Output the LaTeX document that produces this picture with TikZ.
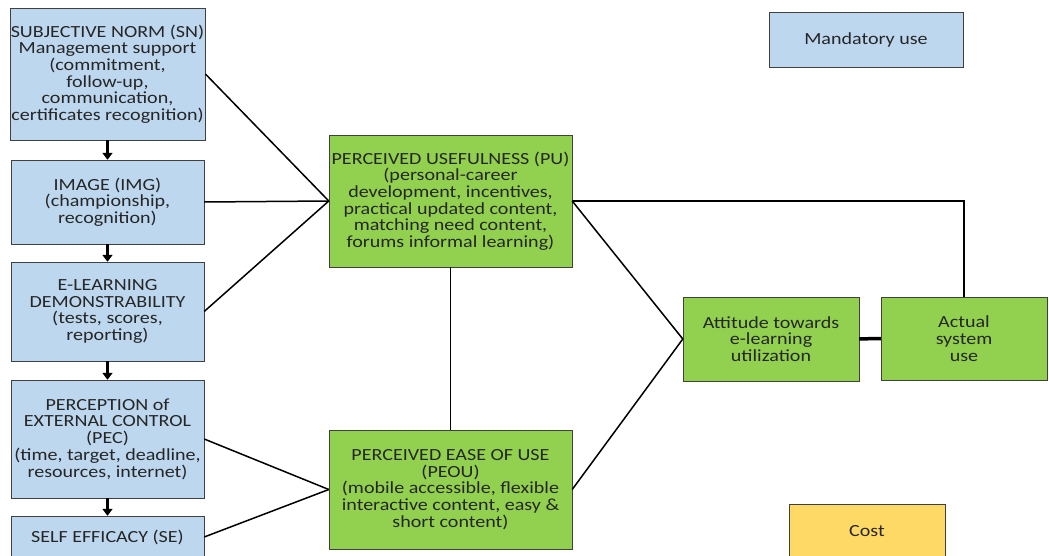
\documentclass[tikz,border=0pt]{standalone}
\usepackage{fontspec}
\setmainfont[FakeStretch=1.18]{Carlito}
\usetikzlibrary{arrows.meta}
\definecolor{boxblue}{HTML}{BDD7EE}
\definecolor{boxgreen}{HTML}{92D050}
\definecolor{boxyellow}{HTML}{FFD966}
\begin{document}
\begin{tikzpicture}[x=1pt, y=-1pt,
	every node/.style = {draw = black!75, align = center, inner sep = 1pt, text = black!85, font = \fontsize{17}{16.7}\selectfont},
	bluebox/.style = {fill = boxblue},
	greenbox/.style = {fill = boxgreen},
	link/.style = {line width = 1.5pt},
	down/.style = {line width = 2.5pt, -{Triangle[width = 10pt, length = 7pt]}}]
		\clip (0,0) rectangle (1049,556);
		% left column
		\node[bluebox, minimum width = 193, minimum height = 132] (SN) at (107.5,74) {SUBJECTIVE NORM (SN)\\Management support\\(commitment,\\follow-up,\\communication,\\certificates recognition)};
		\node[bluebox, minimum width = 193, minimum height = 84] (IMG) at (107.5,202) {IMAGE (IMG)\\(championship,\\recognition)};
		\node[bluebox, minimum width = 193, minimum height = 99] (EL) at (107.5,311.5) {E-LEARNING\\DEMONSTRABILITY\\(tests, scores,\\reporting)};
		\node[bluebox, minimum width = 193, minimum height = 118] (PEC) at (107.5,439) {PERCEPTION of\\EXTERNAL CONTROL\\(PEC)\\(time, target, deadline,\\resources, internet)};
		\node[bluebox, minimum width = 193, minimum height = 42] (SE) at (107.5,537) {SELF EFFICACY (SE)};
		% middle column
		\node[greenbox, minimum width = 243, minimum height = 132] (PU) at (450.5,201) {PERCEIVED USEFULNESS (PU)\\(personal-career\\development, incentives,\\practical updated content,\\matching need content,\\forums informal learning)};
		\node[greenbox, minimum width = 243, minimum height = 119] (PEOU) at (450.5,489.5) {PERCEIVED EASE OF USE\\(PEOU)\\(mobile accessible, flexible\\interactive content, easy \&\\short content)};
		% right side
		\node[greenbox, minimum width = 176, minimum height = 84] (ATT) at (771,339) {Attitude towards\\e-learning\\utilization};
		\node[greenbox, minimum width = 166, minimum height = 83] (USE) at (964,338.5) {Actual\\system\\use};
		\node[bluebox, minimum width = 194, minimum height = 55] (M) at (866,39.5) {Mandatory use};
		\node[fill = boxyellow, minimum width = 156, minimum height = 54] (C) at (867,531) {Cost};
		
		\draw[down] (SN) -- (IMG);
		\draw[down] (IMG) -- (EL);
		\draw[down] (EL) -- (PEC);
		\draw[down] (PEC) -- (SE);
		\draw[link] (SN.east) edge (PU.west) (IMG.east) edge (PU.west) (EL.east) edge (PU.west) (PEC.east) edge (PEOU.west) (SE.east) edge (PEOU.west) (PU.south) edge (PEOU.north) (PU.east) edge (ATT.west) (PEOU.east) edge (ATT.west);
		\draw[link] (PU.east) -| (USE.north);
		\draw[line width = 3.5pt] (ATT) -- (USE);
\end{tikzpicture}
\end{document}
